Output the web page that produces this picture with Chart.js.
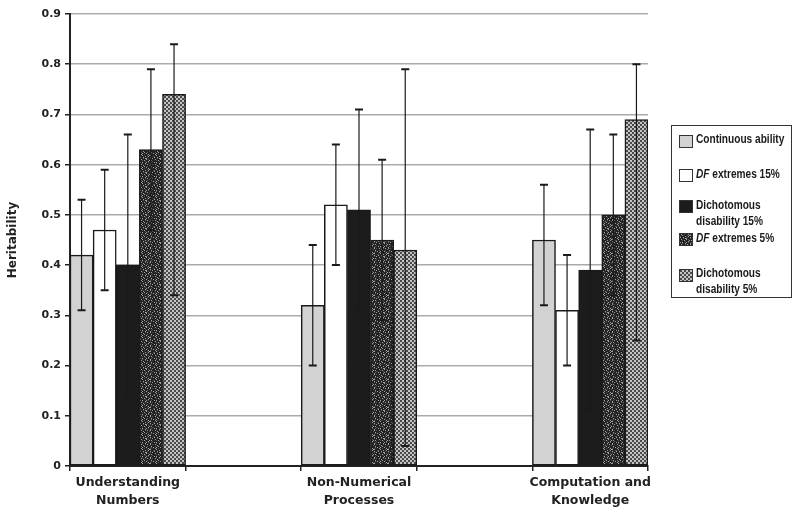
<!DOCTYPE html>
<html>
<head>
<meta charset="utf-8">
<script src="https://cdn.jsdelivr.net/npm/chart.js@4.4.1/dist/chart.umd.min.js"></script>
<style>
html, body { margin: 0; padding: 0; background: #fff; }
#wrap { position: relative; width: 800px; height: 517px; }
#legend { position: absolute; left: 671px; top: 125px; width: 119px; height: 171px; border: 1.5px solid #333;
  font-family: 'Liberation Sans', Arial, sans-serif; font-weight: bold; font-size: 12.5px; color: #1a1a1a; }
.sw { position: absolute; left: 0; width: 12px; height: 11px; border: 1px solid #333; }
.tx { position: absolute; left: 17px; line-height: 15.5px; white-space: nowrap; transform: scaleX(0.81); transform-origin: left top; }
</style>
</head>
<body>
<div id="wrap">
  <canvas id="chart" width="800" height="517"></canvas>
  <div id="legend"></div>
</div>
<script>
// categories (blank ones keep the gaps between groups)
const categories = [["Understanding", "Numbers"], "", ["Non-Numerical", "Processes"], "", ["Computation and", "Knowledge"]];

const continuous     = [0.42, null, 0.32, null, 0.45];
const continuousLow  = [0.31, null, 0.20, null, 0.32];
const continuousHigh = [0.53, null, 0.44, null, 0.56];

const df15     = [0.47, null, 0.52, null, 0.31];
const df15Low  = [0.35, null, 0.40, null, 0.20];
const df15High = [0.59, null, 0.64, null, 0.42];

const dich15     = [0.40, null, 0.51, null, 0.39];
const dich15Low  = [0.14, null, 0.31, null, 0.11];
const dich15High = [0.66, null, 0.71, null, 0.67];

const df5     = [0.63, null, 0.45, null, 0.50];
const df5Low  = [0.47, null, 0.29, null, 0.34];
const df5High = [0.79, null, 0.61, null, 0.66];

const dich5     = [0.74, null, 0.43, null, 0.69];
const dich5Low  = [0.34, null, 0.04, null, 0.25];
const dich5High = [0.84, null, 0.79, null, 0.80];

const yTicks = [0, 0.1, 0.2, 0.3, 0.4, 0.5, 0.6, 0.7, 0.8, 0.9];

// small tiles for the fill patterns
function tile(rows, colors) {
    let c = document.createElement("canvas");
    c.width = rows[0].length;
    c.height = rows.length;
    let g = c.getContext("2d");
    rows.forEach((r, y) => {
        for (let x = 0; x < r.length; x++) {
            g.fillStyle = colors[r[x]];
            g.fillRect(x, y, 1, 1);
        }
    });
    return c;
}

const speckleTile = tile([
    "#.##:###.#:###",
    "##.####:#..###",
    ":####.##.####:",
    ".##.###:##.###",
    "###:#..###:#.#",
    "#.####.#:#####",
    "##:#.####.#.##",
    "#####:##.###:#",
    ".#.###.#:##:##",
    "##:##.####.###",
    "#.###:#.##.#:#",
    "###.#####:####",
    "#:##.##:###.##",
    "##.###.####:#."
], { "#": "#222222", ".": "#a0a0a0", ":": "#555555" });

const checkTile = tile([
    "##..",
    "##..",
    "..##",
    "..##"
], { "#": "#4a4a4a", ".": "#c4c4c4" });

const ctx = document.getElementById("chart").getContext("2d");
const speckle = ctx.createPattern(speckleTile, "repeat");
const check = ctx.createPattern(checkTile, "repeat");

const series = [
    { label: "Continuous ability", data: continuous, low: continuousLow, high: continuousHigh, fill: "#d2d2d2", css: "#d2d2d2" },
    { label: "DF extremes 15%", data: df15, low: df15Low, high: df15High, fill: "#ffffff", css: "#ffffff" },
    { label: "Dichotomous disability 15%", data: dich15, low: dich15Low, high: dich15High, fill: "#1c1c1c", css: "#1c1c1c" },
    { label: "DF extremes 5%", data: df5, low: df5Low, high: df5High, fill: speckle, css: "url(" + speckleTile.toDataURL() + ")" },
    { label: "Dichotomous disability 5%", data: dich5, low: dich5Low, high: dich5High, fill: check, css: "url(" + checkTile.toDataURL() + ")" }
];

const errorBars = {
    id: "errorBars",
    afterDatasetsDraw(chart) {
        const c = chart.ctx, y = chart.scales.y;
        chart.data.datasets.forEach((ds, i) => {
            chart.getDatasetMeta(i).data.forEach((bar, j) => {
                if (ds.data[j] == null) return;
                let top = y.getPixelForValue(ds.high[j]);
                let bot = y.getPixelForValue(ds.low[j]);
                c.save();
                c.strokeStyle = "#1a1a1a";
                c.lineWidth = 1.2;
                c.beginPath();
                c.moveTo(bar.x, top);
                c.lineTo(bar.x, bot);
                c.stroke();
                c.lineWidth = 2;
                c.beginPath();
                c.moveTo(bar.x - 4, top); c.lineTo(bar.x + 4, top);
                c.moveTo(bar.x - 4, bot); c.lineTo(bar.x + 4, bot);
                c.stroke();
                c.restore();
            });
        });
    }
};

const axisFont = { family: "DejaVu Sans", weight: "bold", size: 11 };

new Chart(ctx, {
    type: "bar",
    data: {
        labels: categories,
        datasets: series.map(s => ({
            label: s.label,
            data: s.data,
            low: s.low,
            high: s.high,
            backgroundColor: s.fill,
            borderColor: "#1a1a1a",
            borderWidth: 1.5,
            borderSkipped: false,
            categoryPercentage: 1,
            barPercentage: 1
        }))
    },
    options: {
        responsive: false,
        animation: false,
        layout: { padding: { left: 0, right: 152, top: 14, bottom: 0 } },
        plugins: { legend: { display: false }, tooltip: { enabled: false } },
        scales: {
            x: {
                ticks: { font: { family: "DejaVu Sans", weight: "bold", size: 12.5, lineHeight: 1.45 }, color: "#222", padding: 3, maxRotation: 0, autoSkip: false },
                grid: { drawOnChartArea: false, tickColor: "#222", tickLength: 5, lineWidth: 1.5, offset: true },
                border: { color: "#222", width: 2 },
                afterFit: s => { s.height = 51; }
            },
            y: {
                min: 0,
                max: 0.9,
                afterBuildTicks: s => { s.ticks = yTicks.map(v => ({ value: v })); },
                ticks: { font: axisFont, color: "#222", padding: 4, callback: v => v === 0 ? "0" : v.toFixed(1) },
                grid: { color: "#ababab", lineWidth: 1.5, tickColor: "#222", tickLength: 5 },
                border: { color: "#222", width: 2 },
                title: { display: true, text: "Heritability", font: { family: "DejaVu Sans", weight: "bold", size: 12 }, color: "#222", padding: { top: 6, bottom: 0 } },
                afterFit: s => { s.width = 70; }
            }
        }
    },
    plugins: [errorBars]
});

// legend in HTML so "DF" can be italic
const legend = document.getElementById("legend");
const legendTops = [6, 41, 72, 105, 140];
const legendSwatch = [9, 43, 74, 107, 143];
const legendHtml = [
    "Continuous ability",
    "<i>DF</i> extremes 15%",
    "Dichotomous<br>disability 15%",
    "<i>DF</i> extremes 5%",
    "Dichotomous<br>disability 5%"
];
series.forEach((s, i) => {
    let sw = document.createElement("div");
    sw.className = "sw";
    sw.style.background = s.css;
    sw.style.left = "7px";
    sw.style.top = legendSwatch[i] + "px";
    legend.appendChild(sw);
    let tx = document.createElement("div");
    tx.className = "tx";
    tx.style.left = "24px";
    tx.style.top = legendTops[i] + "px";
    tx.innerHTML = legendHtml[i];
    legend.appendChild(tx);
});
</script>
</body>
</html>
